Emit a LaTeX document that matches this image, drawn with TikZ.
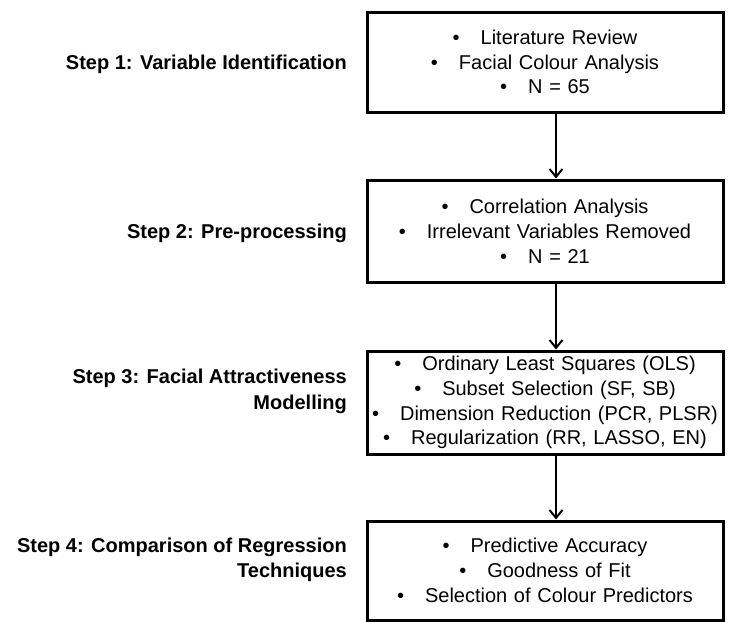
\documentclass[tikz,border=0pt]{standalone}
\usepackage{fontspec}
\setmainfont{Liberation Sans}
\usetikzlibrary{arrows.meta, positioning}
\tikzstyle{stepbox} = [rectangle, draw=black, line width=3pt, minimum width=356pt, text width=352pt, align=center, inner sep=0pt, font=\fontsize{20}{24.8}\selectfont]
\tikzstyle{steplabel} = [align=right, font=\fontsize{20}{25.5}\selectfont\bfseries, anchor=base east, inner sep=0pt]
\tikzstyle{arrow} = [line width=2pt, -{Straight Barb[length=8pt, width=13pt, line width=2pt]}]
\newcommand{\itm}{\textbullet\hspace{1.05em}}

\begin{document}
\begin{tikzpicture}[x=1pt, y=-1pt]
\useasboundingbox (0,0) rectangle (730,621);

% Boxes
\node (vars) at (545,62) [stepbox, minimum height=100pt] {\itm Literature Review\\ \itm Facial Colour Analysis\\ \itm N = 65};
\node (prep) at (545,231) [stepbox, minimum height=102pt] {\itm Correlation Analysis\\ \itm Irrelevant Variables Removed\\ \itm N = 21};
\node (model) at (545,402.5) [stepbox, minimum height=103pt] {\itm Ordinary Least Squares (OLS)\\ \itm Subset Selection (SF, SB)\\ \itm Dimension Reduction (PCR, PLSR)\\ \itm Regularization (RR, LASSO, EN)};
\node (comp) at (545,570.5) [stepbox, minimum height=99pt] {\itm Predictive Accuracy\\ \itm Goodness of Fit\\ \itm Selection of Colour Predictors};

% Labels (first line level with the box centre)
\node (lab1) at (347,69) [steplabel] {Step 1: Variable Identification};
\node (lab2) at (347,238) [steplabel] {Step 2: Pre-processing};
\node (lab3) at (347,409) [steplabel] {Step 3: Facial Attractiveness\\Modelling};
\node (lab4) at (347,577.5) [steplabel] {Step 4: Comparison of Regression\\Techniques};

% Arrows
\draw [arrow] ([xshift=11pt]vars.south) -- ([xshift=11pt]prep.north);
\draw [arrow] ([xshift=11pt]prep.south) -- ([xshift=11pt]model.north);
\draw [arrow] ([xshift=11pt]model.south) -- ([xshift=11pt]comp.north);

\end{tikzpicture}
\end{document}
